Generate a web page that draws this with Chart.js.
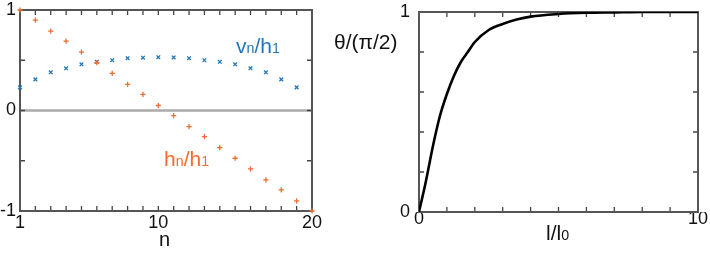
<!DOCTYPE html>
<html>
<head>
<meta charset="utf-8">
<script src="https://cdn.jsdelivr.net/npm/chart.js@4"></script>
<style>
  body { margin: 0; width: 710px; height: 254px; background: #fff; position: relative; overflow: hidden;
         font-family: "Liberation Sans", Arial, sans-serif; }
  canvas { position: absolute; top: 0; }
  .lbl { position: absolute; white-space: nowrap; line-height: 1; }
  .s { font-size: 0.68em; }
</style>
</head>
<body>
<canvas id="leftChart" width="330" height="254" style="left:0"></canvas>
<canvas id="rightChart" width="350" height="254" style="left:360px"></canvas>

<div class="lbl" style="left:236px;top:35px;font-size:21px;color:#2176bd">v<span class="s">n</span>/h<span class="s">1</span></div>
<div class="lbl" style="left:164px;top:148px;font-size:21px;color:#f26c2b">h<span class="s">n</span>/h<span class="s">1</span></div>
<div class="lbl" style="left:159px;top:229px;font-size:20px;color:#111">n</div>
<div class="lbl" style="left:334px;top:31px;font-size:21px;color:#111">&theta;/(&pi;/2)</div>
<div class="lbl" style="left:546px;top:222px;font-size:21px;color:#111">l/l<span class="s">0</span></div>

<script>
// left panel: mode amplitudes vs index n
const nIndex = [1, 2, 3, 4, 5, 6, 7, 8, 9, 10, 11, 12, 13, 14, 15, 16, 17, 18, 19, 20];
const hRatio = [1.00, 0.90, 0.79, 0.69, 0.58, 0.475, 0.37, 0.26, 0.16, 0.05,
                -0.05, -0.16, -0.26, -0.37, -0.475, -0.58, -0.69, -0.79, -0.90, -1.00];
const vRatio = [0.23, 0.31, 0.38, 0.42, 0.46, 0.485, 0.50, 0.52, 0.525, 0.53,
                0.528, 0.52, 0.50, 0.485, 0.46, 0.42, 0.38, 0.31, 0.23];
const leftXLabels = [1, 10, 20];
const leftYLabels = [-1, 0, 1];

// right panel: angle vs length
const lengthRatio = [0, 0.25, 0.5, 0.75, 1, 1.25, 1.5, 1.75, 2, 2.5, 3, 3.5, 4, 5, 6, 7, 8, 9, 10];
const thetaRatio = [0, 0.155, 0.33, 0.48, 0.59, 0.68, 0.75, 0.80, 0.85, 0.91, 0.94, 0.962, 0.977, 0.99, 0.996, 0.998, 1, 1, 1];
const rightXLabels = [0, 10];
const rightYLabels = [0, 1];

const tickFont = { family: '"Liberation Sans", Arial, sans-serif', size: 18, lineHeight: 1 };

// frame, inside tick marks and zero line
const frameTicks = {
  id: 'frameTicks',
  beforeDatasetsDraw(chart, args, opts) {
    const { ctx, chartArea: a, scales: { x, y } } = chart;
    ctx.save();
    if (opts.zeroLine) {
      const y0 = y.getPixelForValue(0);
      ctx.strokeStyle = '#aaa';
      ctx.lineWidth = 2.5;
      ctx.beginPath(); ctx.moveTo(a.left, y0); ctx.lineTo(a.right, y0); ctx.stroke();
    }
    ctx.strokeStyle = '#444';
    ctx.lineWidth = 1.3;
    ctx.beginPath();
    x.ticks.forEach(t => {
      const px = x.getPixelForValue(t.value);
      ctx.moveTo(px, a.bottom); ctx.lineTo(px, a.bottom - 5);
      ctx.moveTo(px, a.top); ctx.lineTo(px, a.top + 5);
    });
    y.ticks.forEach(t => {
      const py = y.getPixelForValue(t.value);
      ctx.moveTo(a.left, py); ctx.lineTo(a.left + 5, py);
      ctx.moveTo(a.right, py); ctx.lineTo(a.right - 5, py);
    });
    ctx.stroke();
    ctx.strokeStyle = '#555';
    ctx.lineWidth = 2;
    ctx.strokeRect(a.left, a.top, a.width, a.height);
    ctx.restore();
  }
};

function axis(min, max, step, shown, pad, size, horizontal) {
  return {
    type: 'linear', min: min, max: max,
    grid: { display: false, drawTicks: false },
    border: { display: false },
    ticks: {
      stepSize: step, autoSkip: false, maxRotation: 0, padding: pad,
      color: '#111', font: tickFont,
      callback: v => shown.includes(Math.round(v * 100) / 100) ? String(v) : ''
    },
    afterFit: s => {
      if (horizontal) s.height = size; else s.width = size;
      // layout padding alone decides the plot box
      s.paddingTop = s.paddingBottom = s.paddingLeft = s.paddingRight = 0;
    }
  };
}

new Chart(document.getElementById('leftChart'), {
  type: 'scatter',
  data: {
    datasets: [
      { label: 'hn/h1', data: nIndex.map((n, i) => ({ x: n, y: hRatio[i] })),
        pointStyle: 'cross', pointRadius: 2.6, borderColor: '#f26c2b', borderWidth: 1.3, clip: false },
      { label: 'vn/h1', data: vRatio.map((v, i) => ({ x: nIndex[i], y: v })),
        pointStyle: 'crossRot', pointRadius: 2.6, borderColor: '#2176bd', borderWidth: 1.3, clip: false }
    ]
  },
  options: {
    responsive: false, animation: false,
    layout: { padding: { top: 10, right: 18, left: 0, bottom: 0 } },
    plugins: { legend: { display: false }, tooltip: { enabled: false }, frameTicks: { zeroLine: true } },
    scales: {
      x: axis(1, 20, 1, leftXLabels, 3, 43, true),
      y: axis(-1, 1, 0.5, leftYLabels, 4, 20, false)
    }
  },
  plugins: [frameTicks]
});

new Chart(document.getElementById('rightChart'), {
  type: 'scatter',
  data: {
    datasets: [
      { label: 'theta', data: lengthRatio.map((l, i) => ({ x: l, y: thetaRatio[i] })),
        showLine: true, borderColor: '#000', borderWidth: 2.6, pointRadius: 0, fill: false,
        cubicInterpolationMode: 'monotone' }
    ]
  },
  options: {
    responsive: false, animation: false,
    layout: { padding: { top: 12, right: 12, left: 0, bottom: 0 } },
    plugins: { legend: { display: false }, tooltip: { enabled: false }, frameTicks: { zeroLine: false } },
    scales: {
      x: axis(0, 10, 1, rightXLabels, -2, 42, true),
      y: axis(0, 1, 0.2, rightYLabels, 9, 59, false)
    }
  },
  plugins: [frameTicks]
});
</script>
</body>
</html>
